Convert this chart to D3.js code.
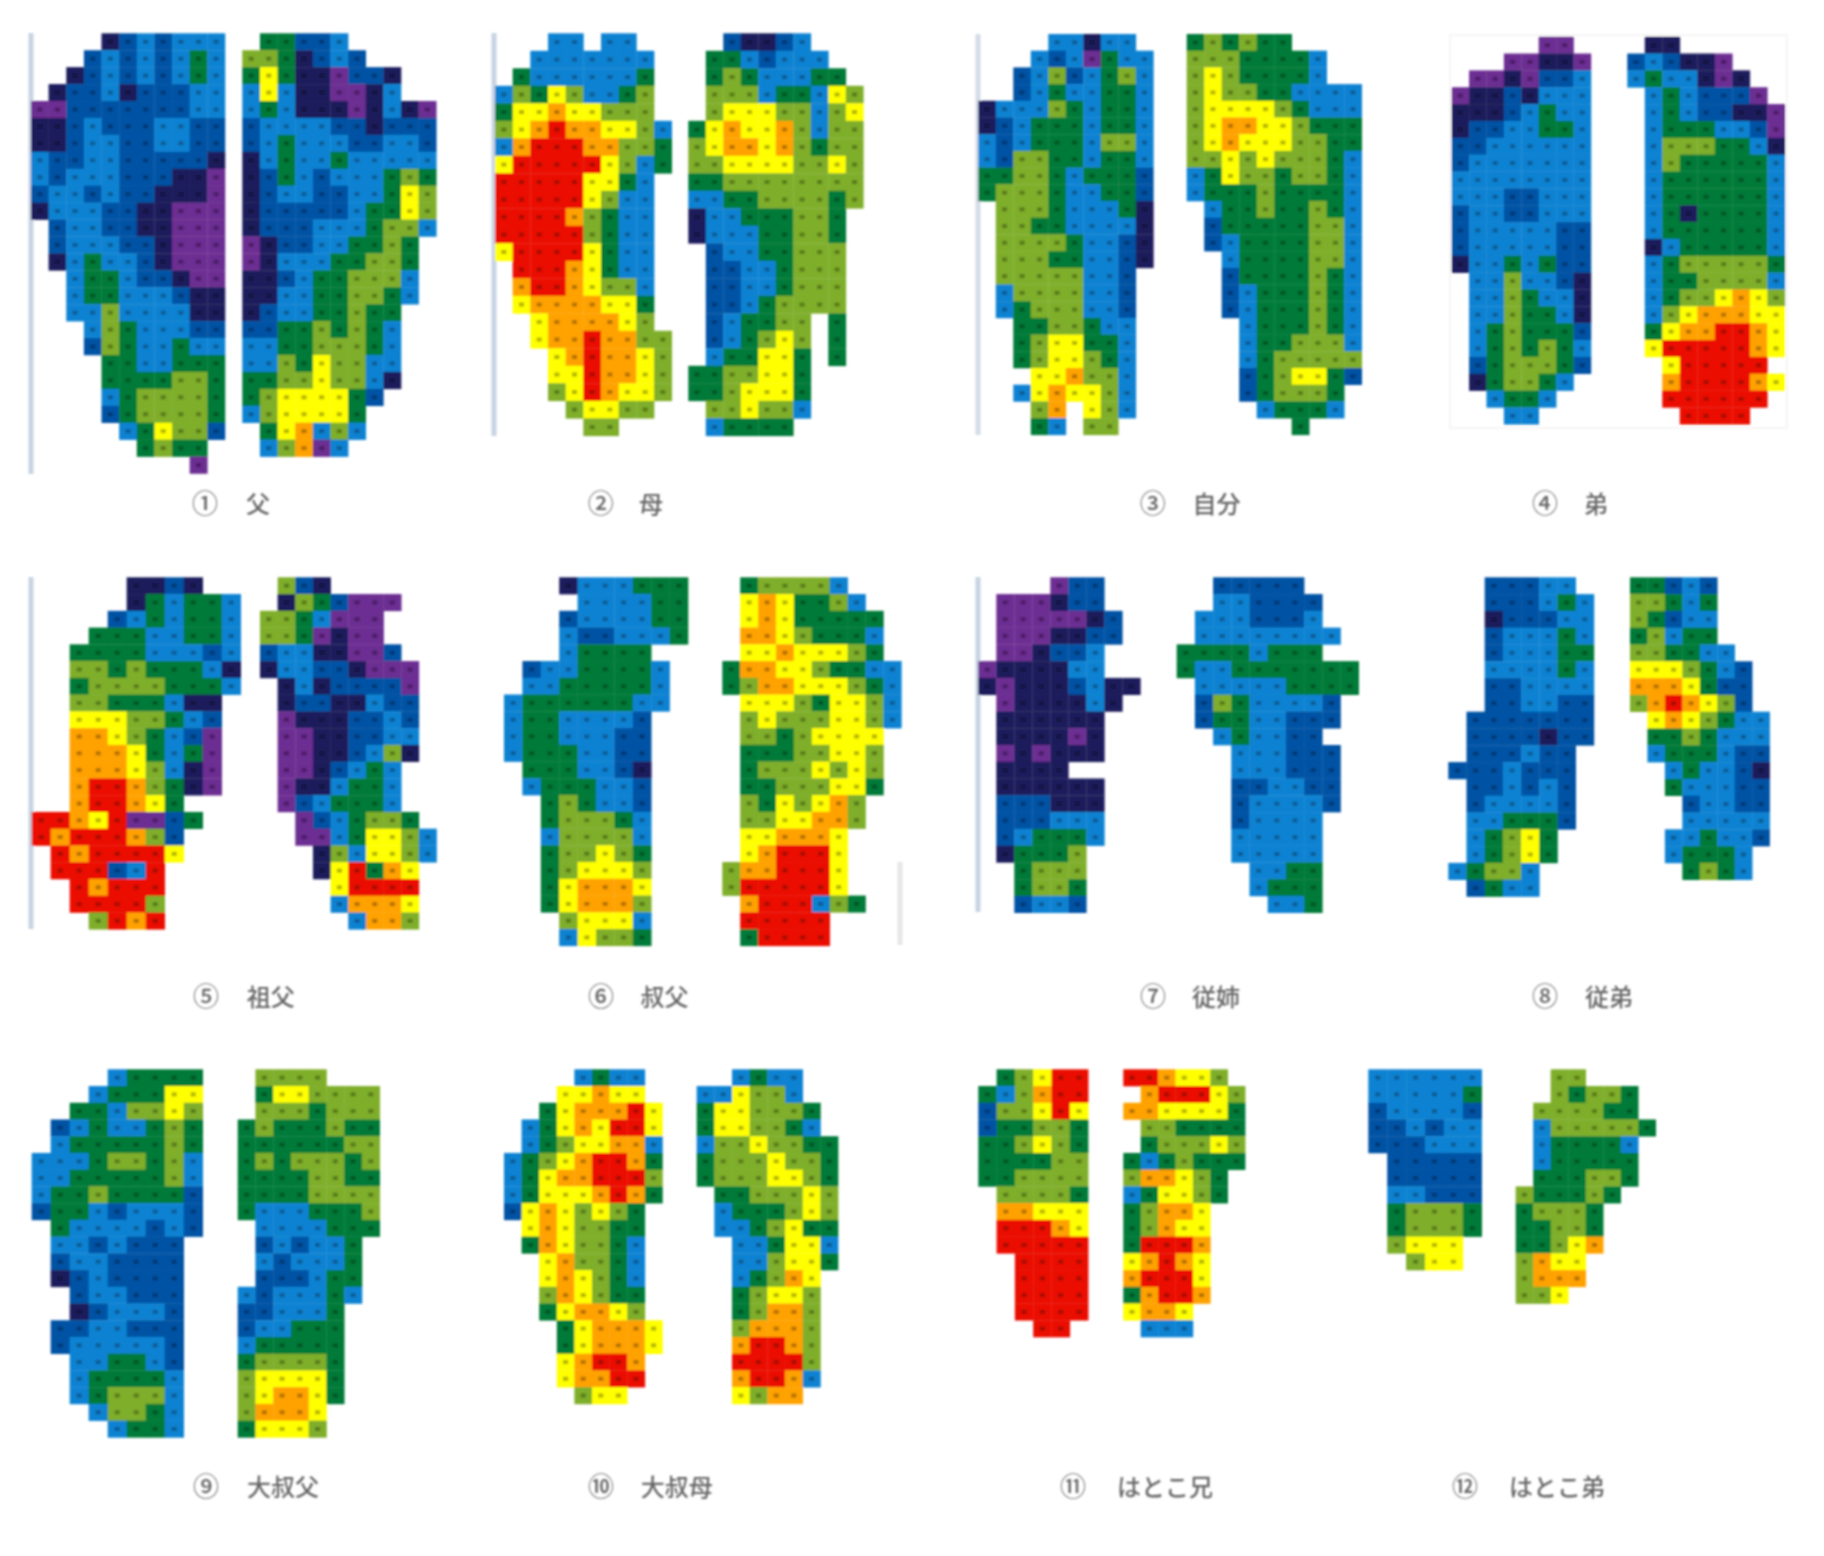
<!DOCTYPE html>
<html>
<head>
<meta charset="utf-8">
<script src="https://cdnjs.cloudflare.com/ajax/libs/d3/7.8.5/d3.min.js"></script>
<style>
  html, body { margin: 0; background: #fff; }
  svg { display: block; }
  text { font-family: "Noto Sans CJK JP", sans-serif; font-weight: 500; fill: #666; }
</style>
</head>
<body>
<div id="container"></div>
<script>
// pressure levels, lowest to highest ("." is no contact)
const levels = ["p", "n", "d", "b", "g", "l", "y", "o", "r"];
const levelColors = ["#6c2d92", "#1b1a5c", "#0352a4", "#0a82d2", "#067a38", "#7fae2a", "#ffff00", "#ffa200", "#ea1006"];

const names = ["父", "母", "自分", "弟", "祖父", "叔父", "従姉", "従弟", "大叔父", "大叔母", "はとこ兄", "はとこ弟"];
const numbers = ["①", "②", "③", "④", "⑤", "⑥", "⑦", "⑧", "⑨", "⑩", "⑪", "⑫"];

const foot1L = ["....ndbdbbb","...dbdbdbgb","..ndbdbdbgb",".nddbndddbb","ppdddddddbb","nndbdddbbdd","nndbbddbbdd","bddbbdddddn","bdbbbdddnnp","dbbdbddnnnp","nbbbddnnppp",".dbbddnnppp",".dbbbddnppp",".nbgbbdnppp","..bggbddnpp","..bggbbbdnn","..bblbbbbnn","...blgbbbdd","...dlgbbgbb","....ggbbggg","....ggggllg","....bgllllg","....dgllllg",".....bgylld","......glgg.",".........p."];
const foot1R = [".ggddb.....","llgndbd....","gygnnpddn..","bybnnppnb..","bgbnnnpnbnp","dbbbbddnddd","dbgbbbddbbd","nbgbbgbbbbb","ndgbdbbbglg","ndbbddbbgyl","ndddddbggyl","ndddbbbgllb","pnddbbgglg.","pnbbbggllg.","nndbgglllb.","nnbbggllgb.","ndbbgglgg..","ddgglglgb..","bbgglllgb..","bblgyllbb..","ggllyllbn..","glyyyygd...","blyyyyg....",".gyoblb....",".blopb....."];
const foot2L = ["...bb.bb..","..bbbbbbb.",".gbbbbbbg.","blgylbbgl.","gyyoyylll.","lyorooyylb","borrroollg","yrrrrrylbg","rrrrryygb.","rrrrrylbb.","rrrrolgbb.","rrrrrlgbb.","yrrrrygbb.",".rrroygbb.",".orroyllb.",".yooooyyg.","..yooooyl.","..yoorooll","...yorooyl","...yyrooyl","...lyroyyl","....lyyll.",".....ll..."];
const foot2R = ["..dnndb...",".ggbdbbb..",".glgbbbgg.",".lllbggbyl",".lyyyllbly","gyoyyolbll","lyooyolgll","llyyyyllyl","ggllllllll","bbggllllgl","nbbgggllg.","nbbbggllg.",".dbbgglll.",".ddbbglll.",".ddbbglll.",".ddbgllll.",".dbggll.g.",".dbglyl.g.",".bggyyg.g.","ggllyyg...","gglyyyg...",".llyllb...",".bgggg...."];
const foot3L = ["....bbnbb.","...bdbpgbb","..dbldbglb","..dbgbbggb","nbbblgbggb","ndbgggbggb","bdbgggbllb","bdllggbggb","ggllgbgggd","glllgbbggd",".lllgbbbgn",".llggbbbbn",".llllgbbdn",".lllggbbdn",".lllllbbd.",".bllllbbd.",".bglllbbd.","..ggllgbb.","..glyyggb.","..glyylgb.","...yyollb.","..byoyylb.","...lo.ylb.","...gb.ll.."];
const foot3R = ["glglgg....","lllggggb..","lylggggb..","lyllggbbbb","lyyyylgbbb","lyooyylggg","lyoyyyllgg","llylylllgb","bgyllgllgb","bggglggggb",".bgglgglgb",".dgggggllb",".dbggggllb","..bggggllb","..dgggglgb","..dbggglgb","..dbggglgb","...bggglgb","...bgglllb","...bglllll","...dglyygd","...dglllg.","....bgggb.","......g..."];
const foot4L = [".....pp.","...ppnnp",".ppnpddb","pnndnbbb","nnndbgbb","nddbbggb","ddbbbbbb","dbbbbbbb","bbbbbbbb","bbbddbbb","dbbddbbb","dbbbbbdd","dbbbbbdd","nbbgbgdd",".bblbbdn",".bblgbbn",".bblggbn",".bglgggd",".bglglgb",".dglllgd",".ngllgb.","..bggb..","...bb..."];
const foot4R = [".nn......","dbdnnp...","bgbbnpn..",".bgbdddp.",".bgbddnnp",".bgggbbdp",".blllggbn",".blgggggb",".bggggggb",".bggggggb",".bgnggggb",".bggggggb",".nbgggggb",".bglllllg",".bggllllb",".bgllyoyl",".blyoooyy",".gyoorroy",".yrrrrroy","..yrrrrr.","..orrrroy","..rrrrrr.","...rrrr.."];
const foot5L = [".....nndn..",".....ngbggb","....dbgbggb","...gggbbggb","..ggggbbbdb","..llglgggbn","..gllllgggb","..llgggbnn.","..yyyllgbd.","..ooylgbdp.","..oooygbgp.","..oooylbnp.","..orrolgnp.","..orroyg...","rroyrppdg..","rorrrold...",".rorrrry...",".rrrdbr....","..rorrr....","..rrrrl....","...lror...."];
const foot5R = [".ldn......",".nlgdppp..","llgbppp...","llgpnpp...","dbbnnppd..","nbbddnppp.",".nbnddddp.",".nddnnbdd.",".pnnnddbd.",".ppnnddbb.",".ppnndbln.",".ppndbgb..",".pnnbggb..",".pdbgggb..","..pdbgllg.","..ppbgyylb","...nlbyylb","...nyrgoy.","....yrrrr.","....boooy.",".....bool."];
const foot6L = ["...nbbbggg","....bbbbgg","...dbbbbgg","...bddbbbg","...bgggg..",".dbbggggb.",".bbgggggb.","bggggggbb.","bggbbbbd..","bggbbbdd..","bgggbbdd..",".gggbbdn..",".bgggbbd..","..glgbbd..","..glllgb..","..bllllb..","..gllylg..","..glyyyl..","..gyoooy..","..gyoool..","...lyyyb..","...byllg.."];
const foot6R = [".gllllb...",".yoygglb..",".yoyggggg.",".ooylgggb.",".yyoyyylg.","gooyylggbb","glooyyylgb",".yyylgyylb",".lylllyylb",".llglyyyy.",".gggllyyl.",".glllylyl.",".gglllyyg.",".lgylyol..",".llyyool..",".yyoooy...",".yorrry...","loorrry...","lrrrrry...",".orrrblg..",".rrrrr....",".grrrr...."];
const foot7L = ["....pdd..",".pppndd..",".pppppnd.",".pppnndd.",".ppnddb..","pnnnnbb..","npnnndbnn",".pnnnnbn.",".nnnnnn..",".nnnnpn..",".pnpnnn..",".nnnn....",".nnnnnn..",".dddnnn..",".dddbbb..",".dbgggb..",".ngggl...","..glll...","..gllg...","..dbbd..."];
const foot7R = ["..ddddd...","..bbdddd..",".bbbdddb..",".bbbbbbbb.","ggggbggg..","gbbggggggg",".bbbbbgggg",".dlgbbbbd.",".dggbbddd.","..bgbbdd..","...bbbddd.","...bbbddd.","...ddbbdd.","...dbbbbd.","...dbbbb..","...bbbbb..","...bbbbb..","....bbgg..","....bggg..",".....bbg.."];
const foot8L = ["..dddbb.","..dddbgb","..ndddbb","..dbbbgb","..dbbbgg","..bbbbgb","..ddbbbb","..ddbbdd",".ddddddd",".ddddndd",".dddbdd.","dddbddd.",".ddbdbd.",".dbbbbd.",".bbgggd.",".bglyg..",".bglyg..","bgllb...",".dgbb..."];
const foot8R = ["ggdbd...","llgbg...","lgdbb...","glbgg...","llggbb..","yyylgbd.","oooygdd.","loroyld.",".yoylgbb",".gglgbbb",".bgggbdd","..bgbbdn","..gbbbdd","...dbbdd","...bbbbb","..bbgbbd","..bgggb.","...glgb."];
const foot9L = ["....bgggg","...bgggyy","..ggbllyl",".dbgbbglg",".bggggglg","bbbgllglb","bbggggglb","bgglggggd","dggbdbbbd",".gbbbbdbd",".bbdbddd.",".dbbdddd.",".ndbdddd.","..dbbddd.","..ndbbbd.",".ddbbddd.",".dbbbbbd.","..bbggbd.","..bggggb.","..bglllb.","...bllgb.","....bggb."];
const foot9R = [".llll...",".gyyllll",".lllglll","glggglgg","ggggggll","glglllgl","ggggllgg","ggggllll","gbbbgggl",".bbbbggg",".dbdbbg.",".bdbbbg.",".dddbgg.","bdbbbgb.","ddbbbg..","dbbggg..","bggggg..","gllllg..","lyyyyg..","lyooyg..","loooy...","gyyyl..."];
const foot10L = ["....bgbb.","...yyoyy.","..gyooory",".bgyoyrry",".bglyyoob","bglyorrog","bgyoorrrl","bgyyyorog","dyoylylg.",".yoyllgg.",".goyllgb.","..yollgb.","..yoylgb.","..loylgg.","..gyooyl.","...gyoooy","...gyoooy","...yorro.","...yoorr.","....lyy.."];
const foot10R = ["..bgbb..","bbyllb..","gyylllg.","gyyllgb.","bllyllgg","glllyllg","glllyylg",".gglllyl",".bggglyl",".bbglygg","..bbgyyb","..bblyyg","..bgloy.","..glyyl.","..glool.","..loool.","..orrol.","..rrrrl.","..orrob.","..yloo.."];
const foot11L = [".glyrr","gblorr","dllyry","dggllg","gglylg","ggggll","ggllll",".llllg",".ooyyy",".rrroy",".rrrrr","..rrrr","..rrrr","..rrrr","..rrrr","...rr."];
const foot11R = ["rroyyl.",".orrryl","ooyyyyg",".llgggg",".glllyl","gbglggg","looylg.","bgyylg.","glooy..","gloyy..","grrro..","yoroy..","orrry..","gorro..","yooy...",".bbb..."];
const foot12L = ["bbbbbb","bbbbbg","dbbbbd","ddbdbb","dddbbb",".ddddd",".ddddd",".bbddd",".glllg",".glllg",".lyyy.","..lyy."];
const foot12R = ["..ll....","..lgllg.",".llllgg.",".blllllg",".bggggb.",".bggggg.",".gggllg.","lggglg..","glllg...","ggllg...","gglyo...","loyy....","looo....","lly....."];

// where each image sits on the page
const panels = [
  { n: 0, left: [foot1L, 31, 33.3, 17.63, 16.93], right: [foot1R, 242.3, 33.3, 17.63, 16.93], cx: 205, tx: 258, ty: 504 },
  { n: 1, left: [foot2L, 495, 33.3, 17.67, 17.5], right: [foot2R, 688.3, 33.3, 17.5, 17.5], cx: 600.7, tx: 651, ty: 504 },
  { n: 2, left: [foot3L, 978.3, 34, 17.5, 16.7], right: [foot3R, 1186.7, 34, 17.5, 16.7], cx: 1152.7, tx: 1216.5, ty: 504 },
  { n: 3, left: [foot4L, 1451.7, 36.7, 17.4, 16.85], right: [foot4R, 1627.3, 36.7, 17.5, 16.85], cx: 1545, tx: 1596, ty: 504 },
  { n: 4, left: [foot5L, 31.7, 577.3, 19, 16.76], right: [foot5R, 260, 577.3, 17.65, 16.76], cx: 206, tx: 270.7, ty: 997 },
  { n: 5, left: [foot6L, 504, 577.3, 18.4, 16.75], right: [foot6R, 722.3, 577.3, 17.9, 16.75], cx: 601, tx: 664.5, ty: 997 },
  { n: 6, left: [foot7L, 978.3, 577.3, 18, 16.77], right: [foot7R, 1176.7, 577.3, 18.2, 16.77], cx: 1153, tx: 1216, ty: 997 },
  { n: 7, left: [foot8L, 1448.3, 577.3, 18.2, 16.8], right: [foot8R, 1630, 577.3, 17.45, 16.8], cx: 1545, tx: 1609, ty: 997 },
  { n: 8, left: [foot9L, 31.7, 1069.3, 19, 16.73], right: [foot9R, 237.7, 1069.3, 17.75, 16.73], cx: 206, tx: 283, ty: 1487 },
  { n: 9, left: [foot10L, 504, 1069.3, 17.6, 16.73], right: [foot10R, 696.7, 1069.3, 17.67, 16.73], cx: 601, tx: 676.7, ty: 1487 },
  { n: 10, left: [foot11L, 978.3, 1069.3, 18.3, 16.73], right: [foot11R, 1123.3, 1069.3, 17.4, 16.73], cx: 1073, tx: 1165, ty: 1487 },
  { n: 11, left: [foot12L, 1368.3, 1069.3, 18.9, 16.73], right: [foot12R, 1515.7, 1069.3, 17.5, 16.73], cx: 1465, tx: 1557, ty: 1487 }
];

// scan edges left on the pasted images: x, y1, y2, colour
const edges = [
  [31, 33, 474, "#c8d3e2"], [494, 33, 436, "#c8d3e2"], [978, 34, 435, "#d4dce8"], [31, 577, 929, "#c8d3e2"],
  [978, 577, 912, "#c8d3e2"], [900, 862, 945, "#e6e6e6"]
];

let svg = d3.select("#container").append("svg").attr("width", 1824).attr("height", 1556);
let defs = svg.append("defs");
defs.append("filter").attr("id", "soft").append("feGaussianBlur").attr("stdDeviation", 0.85);
defs.append("filter").attr("id", "softer").append("feGaussianBlur").attr("stdDeviation", 0.8);

let color = d3.scaleOrdinal().domain(levels).range(levelColors);
let marks = svg.append("g").attr("filter", "url(#soft)");

marks.selectAll("line").data(edges).enter().append("line")
  .attr("x1", (d) => d[0]).attr("x2", (d) => d[0])
  .attr("y1", (d) => d[1]).attr("y2", (d) => d[2])
  .attr("stroke", (d) => d[3]).attr("stroke-width", 5);

// faint frame around the fourth image
marks.append("rect").attr("x", 1450).attr("y", 35).attr("width", 337).attr("height", 393)
  .attr("fill", "none").attr("stroke", "#f2f2f2").attr("stroke-width", 1.5);

function drawFoot(foot) {
  let [rows, x0, y0, w, h] = foot;
  let xScale = d3.scaleBand().domain(d3.range(rows[0].length)).range([x0, x0 + w * rows[0].length]);
  let yScale = d3.scaleBand().domain(d3.range(rows.length)).range([y0, y0 + h * rows.length]);
  let cells = [];
  rows.forEach((row, r) => {
    row.split("").forEach((v, c) => {
      if (v !== ".") cells.push({ r: r, c: c, v: v });
    });
  });
  let g = marks.append("g");
  g.selectAll("rect.cell").data(cells).enter().append("rect")
    .attr("class", "cell")
    .attr("x", (d) => xScale(d.c))
    .attr("y", (d) => yScale(d.r))
    .attr("width", xScale.bandwidth() + 0.3)
    .attr("height", yScale.bandwidth() + 0.3)
    .attr("fill", (d) => color(d.v));
  // the small reading printed in every cell
  g.selectAll("rect.dot").data(cells).enter().append("rect")
    .attr("class", "dot")
    .attr("x", (d) => xScale(d.c) + xScale.bandwidth() / 2 - 2.5)
    .attr("y", (d) => yScale(d.r) + yScale.bandwidth() / 2 - 2)
    .attr("width", 5)
    .attr("height", 4)
    .attr("fill", (d) => d3.color(color(d.v)).darker(1));
}

panels.forEach((p) => {
  drawFoot(p.left);
  drawFoot(p.right);
});

let labels = svg.append("g").attr("filter", "url(#softer)");
labels.selectAll("text.num").data(panels).enter().append("text")
  .attr("class", "num")
  .attr("x", (d) => d.cx).attr("y", (d) => d.ty + 9)
  .attr("text-anchor", "middle")
  .style("font-size", "26px")
  .text((d) => numbers[d.n]);
labels.selectAll("text.name").data(panels).enter().append("text")
  .attr("class", "name")
  .attr("x", (d) => d.tx).attr("y", (d) => d.ty + 9)
  .attr("text-anchor", "middle")
  .style("font-size", "24px")
  .text((d) => names[d.n]);
</script>
</body>
</html>
